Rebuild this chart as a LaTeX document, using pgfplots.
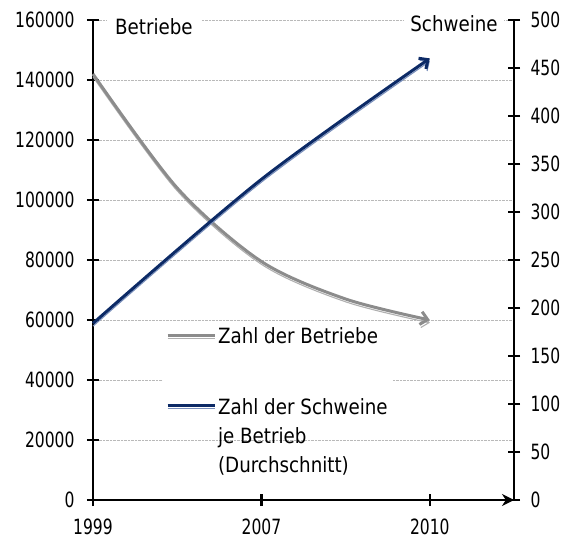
\documentclass[border=0pt]{standalone}
\usepackage{fontspec}
\setmainfont{DejaVu Sans}[FakeStretch=0.87]
\newfontfamily\tickfont{DejaVu Sans}[FakeStretch=0.74]
\usepackage{pgfplots}
\pgfplotsset{compat=1.18}
\usetikzlibrary{arrows.meta}
\definecolor{gDark}{HTML}{8C8C8C}
\definecolor{gLight}{HTML}{B0B0B0}
\definecolor{bDark}{HTML}{0C2A66}
\definecolor{bLight}{HTML}{7A90BC}
\pgfplotsset{
  common/.style={
    scale only axis, width=421bp, height=480bp,
    xmin=0, xmax=2.5, enlargelimits=false, clip=false,
    tick align=center, major tick length=12bp,
    tick style={black, line width=2.4bp},
    axis line style={line width=2.6bp, black},
    /pgf/number format/assume math mode=true,
    /pgf/number format/fixed,
    /pgf/number format/1000 sep={},
    scaled y ticks=false,
    tick label style={font=\tickfont\fontsize{21bp}{24bp}\selectfont},
  },
  graylegend/.style={legend image code/.code={
    \draw[-,gLight,line width=1.1bp] (0bp,-2.8bp) -- (47bp,-2.8bp);
    \draw[-,gDark,line width=3bp] (0bp,0bp) -- (47bp,0bp);}},
  bluelegend/.style={legend image code/.code={
    \draw[-,bLight,line width=1.1bp] (0bp,-2.8bp) -- (47bp,-2.8bp);
    \draw[-,bDark,line width=3bp] (0bp,0bp) -- (47bp,0bp);}},
}
\begin{document}
\begin{tikzpicture}
\useasboundingbox (-93bp,-40bp) rectangle (477bp,500bp);
\begin{axis}[common, name=ax1,
  axis x line=bottom, axis y line=left,
  x axis line style={-{Stealth[length=12bp,width=12bp]}},
  y axis line style={-},
  ymin=0, ymax=160000, ytick={0,20000,...,160000},
  xtick={0,1,2}, xticklabels={1999,2007,2010},
  yticklabel style={xshift=-9bp},
  xticklabel style={yshift=-9bp},
  ymajorgrids, grid style={densely dotted, gray!55, line width=0.7bp},
]
\addplot[gLight, line width=1.1bp, smooth, transform canvas={yshift=-2.8bp}, -{Straight Barb[length=7bp,width=13bp]}] coordinates {(0,142000)(0.5,104000)(1,79500)(1.5,67000)(2,60000)};
\addplot[gDark, line width=3bp, smooth, -{Straight Barb[length=7bp,width=13bp]}] coordinates {(0,142000)(0.5,104000)(1,79500)(1.5,67000)(2,60000)};
\node[fill=white, anchor=base west, inner xsep=8bp, inner ysep=4bp, font=\fontsize{21bp}{24bp}\selectfont] at (rel axis cs:0.033,0.969) {Betriebe};
\node[fill=white, anchor=base east, inner xsep=6bp, inner ysep=4bp, font=\fontsize{21bp}{24bp}\selectfont] at (rel axis cs:0.976,0.977) {Schweine};
\end{axis}
\begin{axis}[common,
  axis x line=none, axis y line=right,
  y axis line style={-},
  ymin=0, ymax=500, ytick={0,50,...,500}, xtick=\empty,
  yticklabel style={xshift=7bp},
  legend cell align=left,
  legend style={at={(0.166,0.371)}, anchor=north west, draw=none, fill=white,
    inner sep=3bp, row sep=46bp,
    font=\fontsize{21bp}{29bp}\selectfont},
]
\addlegendimage{graylegend}
\addlegendentry{Zahl der Betriebe}
\addplot[bLight, line width=1.1bp, smooth, transform canvas={yshift=-2.8bp}, -{Straight Barb[length=7bp,width=13bp]}, forget plot] coordinates {(0,184)(1,334)(2,460)};
\addplot[bDark, line width=3bp, smooth, -{Straight Barb[length=7bp,width=13bp]}, bluelegend] coordinates {(0,184)(1,334)(2,460)};
\addlegendentry{\begin{tabular}[t]{@{}l@{}}Zahl der Schweine\\je Betrieb\\(Durchschnitt)\end{tabular}}
\end{axis}
\end{tikzpicture}
\end{document}
